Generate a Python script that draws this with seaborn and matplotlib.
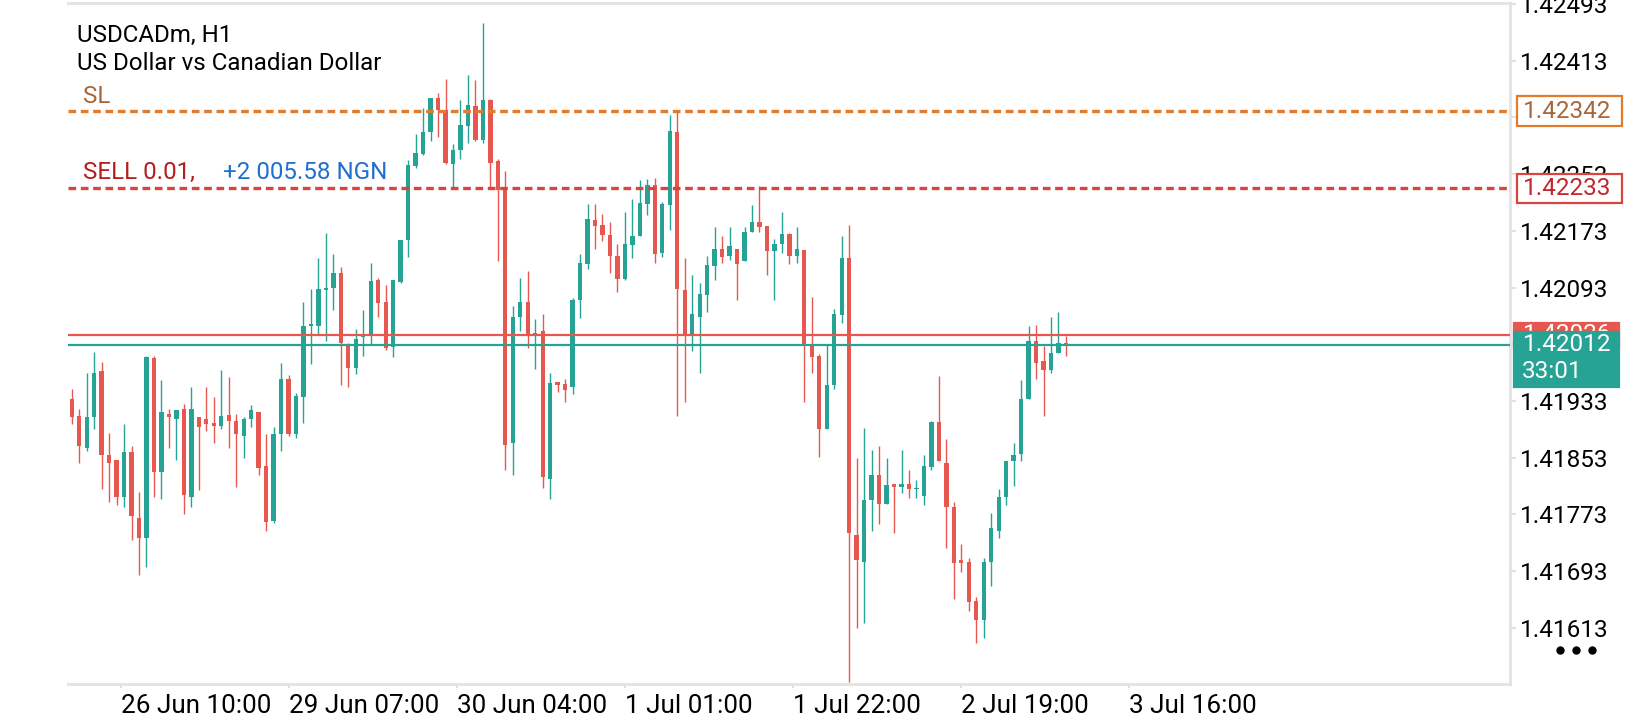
import numpy as np
import pandas as pd
import matplotlib
matplotlib.use("Agg")
import matplotlib.pyplot as plt
import matplotlib.transforms as mtransforms
from matplotlib.patches import Rectangle
from matplotlib.lines import Line2D
import seaborn as sns

# USDCADm H1 candles (left to right)
opens = [1.41936, 1.41912, 1.41866, 1.41910, 1.41975, 1.41857, 1.41849, 1.41797, 1.41861, 1.41768,
         1.41739, 1.41994, 1.41832, 1.41915, 1.41907, 1.41922, 1.41797, 1.41911, 1.41908, 1.41902,
         1.41898, 1.41913, 1.41904, 1.41884, 1.41907, 1.41918, 1.41841, 1.41763, 1.41887, 1.41964,
         1.41886, 1.41939, 1.42039, 1.42038, 1.42090, 1.42092, 1.42113, 1.42014, 1.41979, 1.42023,
         1.42024, 1.42104, 1.42072, 1.42009, 1.42101, 1.42160, 1.42264, 1.42281, 1.42312, 1.42361,
         1.42344, 1.42267, 1.42287, 1.42321, 1.42349, 1.42301, 1.42358, 1.42272, 1.42234, 1.41874,
         1.42051, 1.42072, 1.42026, 1.42031, 1.41823, 1.41960, 1.41957, 1.41952, 1.42075, 1.42126,
         1.42188, 1.42181, 1.42167, 1.42138, 1.42105, 1.42153, 1.42165, 1.42211, 1.42238, 1.42142,
         1.42210, 1.42313, 1.42090, 1.42026, 1.42052, 1.42082, 1.42123, 1.42148, 1.42137, 1.42148,
         1.42130, 1.42171, 1.42185, 1.42180, 1.42144, 1.42154, 1.42169, 1.42137, 1.42146, 1.42013,
         1.41997, 1.41893, 1.41956, 1.42054, 1.42134, 1.41744, 1.41706, 1.41793, 1.41829, 1.41787,
         1.41816, 1.41811, 1.41816, 1.41809, 1.41799, 1.41840, 1.41903, 1.41845, 1.41784, 1.41709,
         1.41706, 1.41650, 1.41624, 1.41706, 1.41750, 1.41798, 1.41848, 1.41858, 1.41936, 1.42018,
         1.41989, 1.41976, 1.42000, 1.42015]
highs = [1.41950, 1.41922, 1.41973, 1.42002, 1.41988, 1.41888, 1.41850, 1.41901, 1.41870, 1.41804,
         1.41997, 1.41997, 1.41962, 1.41922, 1.41920, 1.41929, 1.41953, 1.41911, 1.41953, 1.41939,
         1.41977, 1.41967, 1.41915, 1.41911, 1.41927, 1.41918, 1.41887, 1.41896, 1.41987, 1.41970,
         1.41944, 1.42073, 1.42091, 1.42134, 1.42170, 1.42140, 1.42122, 1.42015, 1.42034, 1.42061,
         1.42127, 1.42106, 1.42097, 1.42104, 1.42160, 1.42273, 1.42310, 1.42346, 1.42361, 1.42367,
         1.42387, 1.42296, 1.42357, 1.42393, 1.42386, 1.42466, 1.42359, 1.42274, 1.42257, 1.42067,
         1.42107, 1.42116, 1.42049, 1.42056, 1.41973, 1.41960, 1.41964, 1.42078, 1.42140, 1.42211,
         1.42211, 1.42197, 1.42185, 1.42155, 1.42199, 1.42218, 1.42245, 1.42246, 1.42247, 1.42213,
         1.42336, 1.42341, 1.42135, 1.42111, 1.42099, 1.42137, 1.42179, 1.42166, 1.42179, 1.42148,
         1.42179, 1.42210, 1.42236, 1.42180, 1.42162, 1.42199, 1.42170, 1.42178, 1.42146, 1.42079,
         1.41999, 1.42012, 1.42062, 1.42166, 1.42181, 1.41853, 1.41895, 1.41864, 1.41870, 1.41853,
         1.41816, 1.41864, 1.41836, 1.41822, 1.41857, 1.41905, 1.41968, 1.41879, 1.41791, 1.41731,
         1.41711, 1.41656, 1.41712, 1.41775, 1.41809, 1.41848, 1.41874, 1.41963, 1.42039, 1.42040,
         1.42011, 1.42052, 1.42059, 1.42025]
lows = [1.41901, 1.41846, 1.41863, 1.41894, 1.41809, 1.41790, 1.41786, 1.41784, 1.41737, 1.41687,
        1.41699, 1.41798, 1.41795, 1.41867, 1.41850, 1.41773, 1.41783, 1.41808, 1.41890, 1.41873,
        1.41894, 1.41867, 1.41812, 1.41852, 1.41896, 1.41828, 1.41749, 1.41761, 1.41863, 1.41884,
        1.41881, 1.41902, 1.41985, 1.42026, 1.42017, 1.42061, 1.41955, 1.41953, 1.41971, 1.41997,
        1.42014, 1.42052, 1.42005, 1.41995, 1.42100, 1.42136, 1.42262, 1.42280, 1.42299, 1.42306,
        1.42267, 1.42232, 1.42274, 1.42297, 1.42299, 1.42297, 1.42235, 1.42131, 1.41836, 1.41829,
        1.42032, 1.42007, 1.41978, 1.41810, 1.41794, 1.41945, 1.41932, 1.41943, 1.42050, 1.42119,
        1.42148, 1.42158, 1.42114, 1.42087, 1.42104, 1.42135, 1.42165, 1.42195, 1.42127, 1.42136,
        1.42174, 1.41912, 1.41932, 1.42004, 1.41973, 1.42059, 1.42104, 1.42128, 1.42132, 1.42076,
        1.42130, 1.42171, 1.42172, 1.42110, 1.42076, 1.42142, 1.42126, 1.42128, 1.41932, 1.41973,
        1.41854, 1.41893, 1.41950, 1.42043, 1.41536, 1.41612, 1.41620, 1.41750, 1.41759, 1.41787,
        1.41747, 1.41803, 1.41796, 1.41796, 1.41786, 1.41836, 1.41848, 1.41726, 1.41653, 1.41691,
        1.41636, 1.41591, 1.41598, 1.41672, 1.41740, 1.41786, 1.41813, 1.41848, 1.41936, 1.41964,
        1.41912, 1.41973, 1.42000, 1.41997]
closes = [1.41910, 1.41869, 1.41910, 1.41973, 1.41856, 1.41845, 1.41797, 1.41861, 1.41770, 1.41739,
          1.41995, 1.41832, 1.41918, 1.41910, 1.41920, 1.41800, 1.41922, 1.41896, 1.41900, 1.41897,
          1.41912, 1.41904, 1.41887, 1.41908, 1.41920, 1.41839, 1.41762, 1.41887, 1.41964, 1.41886,
          1.41940, 1.42039, 1.42042, 1.42091, 1.42092, 1.42113, 1.42015, 1.41979, 1.42020, 1.42026,
          1.42102, 1.42071, 1.42007, 1.42104, 1.42160, 1.42266, 1.42283, 1.42312, 1.42360, 1.42344,
          1.42268, 1.42287, 1.42322, 1.42351, 1.42301, 1.42358, 1.42269, 1.42230, 1.41871, 1.42052,
          1.42072, 1.42026, 1.42029, 1.41825, 1.41958, 1.41955, 1.41948, 1.42076, 1.42127, 1.42190,
          1.42180, 1.42167, 1.42137, 1.42105, 1.42155, 1.42166, 1.42212, 1.42237, 1.42140, 1.42211,
          1.42314, 1.42091, 1.42026, 1.42056, 1.42084, 1.42125, 1.42148, 1.42136, 1.42151, 1.42126,
          1.42171, 1.42186, 1.42179, 1.42144, 1.42155, 1.42169, 1.42137, 1.42147, 1.42011, 1.41995,
          1.41893, 1.41956, 1.42056, 1.42134, 1.41746, 1.41708, 1.41793, 1.41829, 1.41787, 1.41815,
          1.41811, 1.41816, 1.41809, 1.41810, 1.41841, 1.41903, 1.41848, 1.41784, 1.41705, 1.41705,
          1.41649, 1.41624, 1.41706, 1.41753, 1.41798, 1.41848, 1.41857, 1.41936, 1.42018, 1.41987,
          1.41976, 1.42001, 1.42015, 1.42012]

# price levels shown on the chart
sl_price = 1.42342
sell_price = 1.42233
ask_price = 1.42026
bid_price = 1.42012

price_ticks = [1.41613, 1.41693, 1.41773, 1.41853, 1.41933, 1.42013,
               1.42093, 1.42173, 1.42253, 1.42333, 1.42413, 1.42493]
# 1.42013 and 1.42333 sit fully under the price tags
price_labels = ["1.41613", "1.41693", "1.41773", "1.41853", "1.41933", "",
                "1.42093", "1.42173", "1.42253", "", "1.42413", "1.42493"]
time_ticks = [6.6, 29.1, 51.6, 74.0, 96.5, 119.0, 141.4]
time_labels = ["26 Jun 10:00", "29 Jun 07:00", "30 Jun 04:00", "1 Jul 01:00",
               "1 Jul 22:00", "2 Jul 19:00", "3 Jul 16:00"]

RED = "#e5574f"
TEAL = "#26a394"
ORANGE = "#e27b2b"
SELL_RED = "#d9443f"
GRID = "#e2e2e2"

sns.set_style("white")
plt.rcParams["font.family"] = ["Roboto", "DejaVu Sans"]

W, H = 1640, 720
fig = plt.figure(figsize=(W / 100, H / 100), dpi=100)
ax = fig.add_axes([68 / W, 1 - 684 / H, (1510 - 68) / W, (684 - 3) / H])

# pixel coords (origin top-left) for the overlay texts
px = mtransforms.Affine2D().scale(1 / W, -1 / H).translate(0, 1) + fig.transFigure
bl = mtransforms.blended_transform_factory(px, ax.transData)

df = pd.DataFrame({"open": opens, "high": highs, "low": lows, "close": closes})
df["idx"] = np.arange(len(df))
colors = np.where(df["close"] >= df["open"], TEAL, RED)

ax.vlines(df["idx"], df["low"], df["high"], colors=colors, lw=1.0, zorder=2)
body_lo = df[["open", "close"]].min(axis=1)
body_h = (df["close"] - df["open"]).abs().clip(lower=0.000012)
ax.bar(df["idx"], body_h, bottom=body_lo, width=0.58, color=colors, lw=0, zorder=3)

# order levels
ax.axhline(ask_price, color=RED, lw=1.6, zorder=4)
ax.axhline(bid_price, color=TEAL, lw=1.6, zorder=4)
ax.axhline(sl_price, color=ORANGE, lw=2.4, ls=(0, (2.3, 1.4)), zorder=4)
ax.axhline(sell_price, color=SELL_RED, lw=2.4, ls=(0, (2.3, 1.4)), zorder=4)

ax.set_xlim(-0.5, 192.4)
ax.set_ylim(1.415336, 1.424944)

ax.yaxis.tick_right()
ax.set_yticks(price_ticks, price_labels)
ax.tick_params(axis="y", length=4, width=1.5, color=GRID, pad=3,
               labelsize=17.5, labelcolor="black", right=True, left=False)
ax.set_xticks(time_ticks)
ax.set_xticklabels(time_labels, ha="left")
ax.tick_params(axis="x", length=3, width=1.5, color=GRID, pad=4,
               labelsize=18.7, labelcolor="black", bottom=True)

ax.spines["left"].set_visible(False)
for s in ["top", "right", "bottom"]:
    ax.spines[s].set_color(GRID)
    ax.spines[s].set_linewidth(2)
ax.grid(False)

# header texts
fig.text(76.7, 42.3, "USDCADm, H1", transform=px, fontsize=17.4, color="black", va="baseline")
fig.text(76.7, 70, "US Dollar vs Canadian Dollar", transform=px, fontsize=17.4, color="black", va="baseline")
up8 = mtransforms.offset_copy(bl, fig=fig, y=7.7, units="dots")
up9 = mtransforms.offset_copy(bl, fig=fig, y=9, units="dots")
ax.text(82.7, sl_price, "SL", transform=up8, fontsize=17.4, color="#a8653b", va="baseline", clip_on=False)
ax.text(82.7, sell_price, "SELL 0.01,", transform=up9, fontsize=17.4, color="#b71c1c", va="baseline", clip_on=False)
ax.text(222.7, sell_price, "+2 005.58 NGN", transform=up9, fontsize=17.4, color="#1f6fd1", va="baseline", clip_on=False)

# price tags on the right scale
def tag(price, lo, hi, x0, width, fc, ec, tc, label, zo):
    ax.add_patch(Rectangle((x0, price - lo), width, lo + hi, transform=bl, fc=fc, ec=ec,
                           lw=1.6, clip_on=False, zorder=zo))
    ax.text(1522.7, price, label, transform=bl, fontsize=17.5, color=tc, va="center",
            ha="left", clip_on=False, zorder=zo + 0.5)

tag(sl_price, 0.000206, 0.000206, 1517, 105, "white", ORANGE, "#a8653b", "1.42342", 5)
tag(sell_price, 0.000202, 0.000202, 1517, 105, "white", SELL_RED, "#c0262d", "1.42233", 5)
tag(ask_price, 0.00018, 0.000173, 1514, 105, RED, RED, "white", "1.42026", 6)
tag(bid_price, 0.000592, 0.000183, 1514, 105, TEAL, TEAL, "white", "1.42012", 7)
ax.text(1521.7, bid_price - 0.000378, "33:01", transform=bl, fontsize=17.5, color="white",
        va="center", ha="left", clip_on=False, zorder=8)

fig.add_artist(Line2D([1560, 1576, 1592], [650, 650, 650], transform=px, ls="none",
                      marker="o", ms=5, color="black"))

fig.savefig("out.png", dpi=100)
